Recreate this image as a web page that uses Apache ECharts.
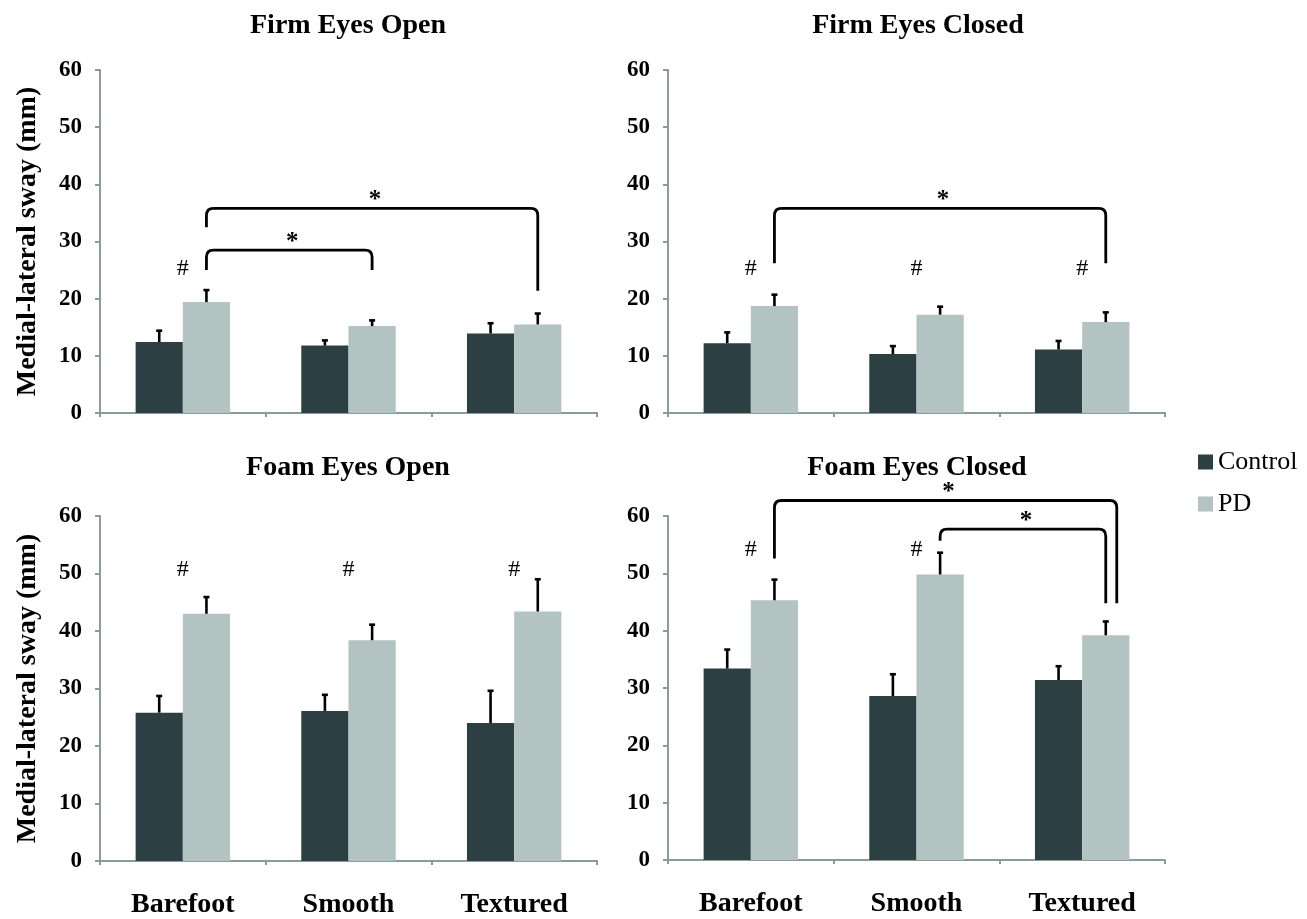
<!DOCTYPE html>
<html><head><meta charset="utf-8">
<script src="https://cdn.jsdelivr.net/npm/echarts@6/dist/echarts.min.js"></script>
<style>html,body{margin:0;padding:0;background:#fff}#c{width:1307px;height:919px}</style>
</head><body><div id="c"></div>
<script>
// ---------- data ----------
const categories = ['Barefoot', 'Smooth', 'Textured'];
const panelTitles = ['Firm Eyes Open', 'Firm Eyes Closed', 'Foam Eyes Open', 'Foam Eyes Closed'];
const seriesNames = ['Control', 'PD'];
const yAxisTitle = 'Medial-lateral sway (mm)';

const firmOpenControl = [12.4, 11.8, 13.9];
const firmOpenControlErr = [2.0, 0.9, 1.8];
const firmOpenPD = [19.4, 15.2, 15.5];
const firmOpenPDErr = [2.1, 1.0, 1.9];

const firmClosedControl = [12.2, 10.3, 11.1];
const firmClosedControlErr = [1.9, 1.4, 1.5];
const firmClosedPD = [18.7, 17.2, 15.9];
const firmClosedPDErr = [2.0, 1.4, 1.7];

const foamOpenControl = [25.8, 26.1, 24.0];
const foamOpenControlErr = [2.9, 2.8, 5.6];
const foamOpenPD = [43.0, 38.4, 43.4];
const foamOpenPDErr = [2.9, 2.7, 5.6];

const foamClosedControl = [33.4, 28.6, 31.4];
const foamClosedControlErr = [3.3, 3.8, 2.4];
const foamClosedPD = [45.3, 49.8, 39.2];
const foamClosedPDErr = [3.6, 3.8, 2.4];

// '#' marks: [category index, height]
const firmOpenHash = [[0, 25.2]];
const firmClosedHash = [[0, 25.2], [1, 25.2], [2, 25.2]];
const foamOpenHash = [[0, 50.7], [1, 50.7], [2, 50.7]];
const foamClosedHash = [[0, 54.2], [1, 54.2]];

// '*' brackets between PD bars: [from category, to category, top, left leg end, right leg end]
const firmOpenBrackets = [[0, 2, 35.8, 32.5, 21.4], [0, 1, 28.5, 25.0, 25.0]];
const firmClosedBrackets = [[0, 2, 35.8, 26.2, 26.2]];
const foamOpenBrackets = [];
const foamClosedBrackets = [[0, 2, 62.7, 52.6, 44.8], [1, 2, 57.7, 55.7, 44.8]];

// ---------- styling / layout ----------
const COLORS = ['#2c3f42', '#b3c3c1'];
const AXIS_COLOR = '#8a9b9a';
const FONT = "'Liberation Serif', 'Times New Roman', serif";
const BAR_FRAC = 0.285;
const bracketRightShift = [[0, 0], [0], [], [11, 0]];

const panels = [
  {ctrl: firmOpenControl, ctrlErr: firmOpenControlErr, pd: firmOpenPD, pdErr: firmOpenPDErr, hash: firmOpenHash, br: firmOpenBrackets},
  {ctrl: firmClosedControl, ctrlErr: firmClosedControlErr, pd: firmClosedPD, pdErr: firmClosedPDErr, hash: firmClosedHash, br: firmClosedBrackets},
  {ctrl: foamOpenControl, ctrlErr: foamOpenControlErr, pd: foamOpenPD, pdErr: foamOpenPDErr, hash: foamOpenHash, br: foamOpenBrackets},
  {ctrl: foamClosedControl, ctrlErr: foamClosedControlErr, pd: foamClosedPD, pdErr: foamClosedPDErr, hash: foamClosedHash, br: foamClosedBrackets}
];
const grids = [
  {left: 100, top: 70, width: 497, height: 343},
  {left: 668, top: 70, width: 497, height: 343},
  {left: 100, top: 516, width: 497, height: 345},
  {left: 668, top: 516, width: 497, height: 344}
];
const titlePos = [[343, 7], [913, 7], [343, 449], [912, 449]];

function errRender(params, api) {
  const cat = api.value(0), v = api.value(1), e = api.value(2), s = api.value(3);
  const bw = api.size([1, 0])[0] * BAR_FRAC;
  const p0 = api.coord([cat, v]);
  const p1 = api.coord([cat, v + e]);
  const x = p0[0] + (s === 0 ? -bw / 2 : bw / 2);
  return {type: 'group', children: [
    {type: 'line', shape: {x1: x, y1: p0[1], x2: x, y2: p1[1]}, style: {stroke: '#000', lineWidth: 2.6}},
    {type: 'line', shape: {x1: x - 3, y1: p1[1], x2: x + 3, y2: p1[1]}, style: {stroke: '#000', lineWidth: 2.6}}
  ]};
}

function bracketRender(pi) {
  return function (params, api) {
    const a = api.value(0), b = api.value(1), t = api.value(2), l = api.value(3), r = api.value(4);
    const off = api.size([1, 0])[0] * BAR_FRAC / 2;
    const shift = (bracketRightShift[pi] || [])[params.dataIndex] || 0;
    const pL = api.coord([a, l]), pR = api.coord([b, r]), pT = api.coord([a, t]);
    const xL = pL[0] + off, xR = pR[0] + off + shift;
    const yT = pT[1], yL = pL[1], yR = pR[1];
    const rad = 7;
    const d = `M${xL} ${yL} L${xL} ${yT + rad} Q${xL} ${yT} ${xL + rad} ${yT} L${xR - rad} ${yT} Q${xR} ${yT} ${xR} ${yT + rad} L${xR} ${yR}`;
    return {type: 'group', children: [
      {type: 'path', shape: {pathData: d}, style: {stroke: '#000', lineWidth: 2.8, fill: null}},
      {type: 'text', x: (xL + xR) / 2 + 3, y: yT - 8, style: {text: '*', font: `bold 25px ${FONT}`, fill: '#000', align: 'center', verticalAlign: 'middle'}}
    ]};
  };
}

function hashRender(params, api) {
  const p = api.coord([api.value(0), api.value(1)]);
  return {type: 'text', x: p[0], y: p[1], style: {text: '#', font: `24px ${FONT}`, fill: '#000', align: 'center', verticalAlign: 'middle'}};
}

const option = {
  backgroundColor: '#fff',
  animation: false,
  title: panelTitles.map((t, i) => ({
    text: t, left: titlePos[i][0], top: titlePos[i][1], textAlign: 'center',
    textStyle: {fontFamily: FONT, fontWeight: 'bold', fontSize: 28, color: '#000'}
  })),
  legend: {
    data: seriesNames, orient: 'vertical', left: 1193, top: 444, itemGap: 16,
    itemWidth: 15, itemHeight: 15, icon: 'rect',
    textStyle: {fontFamily: FONT, fontSize: 26, color: '#000'}
  },
  grid: grids,
  xAxis: grids.map((g, i) => ({
    type: 'category', gridIndex: i, data: categories,
    axisLine: {lineStyle: {color: AXIS_COLOR, width: 2}},
    axisTick: {show: true, length: 4, lineStyle: {color: AXIS_COLOR, width: 2}},
    axisLabel: {show: i >= 2, margin: 30, fontFamily: FONT, fontWeight: 'bold', fontSize: 28, color: '#000'}
  })),
  yAxis: grids.map((g, i) => ({
    type: 'value', gridIndex: i, min: 0, max: 60, interval: 10,
    name: i % 2 === 0 ? yAxisTitle : '', nameLocation: 'middle', nameGap: 58, nameRotate: 90,
    nameTextStyle: {fontFamily: FONT, fontWeight: 'bold', fontSize: 28, color: '#000'},
    axisLine: {show: true, lineStyle: {color: AXIS_COLOR, width: 2}},
    axisTick: {show: true, length: 5, lineStyle: {color: AXIS_COLOR, width: 2}},
    splitLine: {show: false},
    axisLabel: {margin: 18, fontFamily: FONT, fontWeight: 'bold', fontSize: 23, color: '#000'}
  })),
  series: []
};

panels.forEach((p, i) => {
  option.series.push({
    name: 'Control', type: 'bar', xAxisIndex: i, yAxisIndex: i, data: p.ctrl,
    barWidth: (BAR_FRAC * 100) + '%', barGap: '0%', itemStyle: {color: COLORS[0]}
  });
  option.series.push({
    name: 'PD', type: 'bar', xAxisIndex: i, yAxisIndex: i, data: p.pd,
    barWidth: (BAR_FRAC * 100) + '%', barGap: '0%', itemStyle: {color: COLORS[1]}
  });
  const errData = [];
  p.ctrl.forEach((v, k) => errData.push([k, v, p.ctrlErr[k], 0]));
  p.pd.forEach((v, k) => errData.push([k, v, p.pdErr[k], 1]));
  option.series.push({type: 'custom', xAxisIndex: i, yAxisIndex: i, data: errData, renderItem: errRender, z: 5, silent: true});
  option.series.push({type: 'custom', xAxisIndex: i, yAxisIndex: i, data: p.hash, renderItem: hashRender, z: 5, silent: true, clip: false});
  if (p.br.length) {
    option.series.push({type: 'custom', xAxisIndex: i, yAxisIndex: i, data: p.br, renderItem: bracketRender(i), z: 6, silent: true, clip: false,
      encode: {x: 0, y: 2}});
  }
});

const chart = echarts.init(document.getElementById('c'));
chart.setOption(option);
</script>
</body></html>
